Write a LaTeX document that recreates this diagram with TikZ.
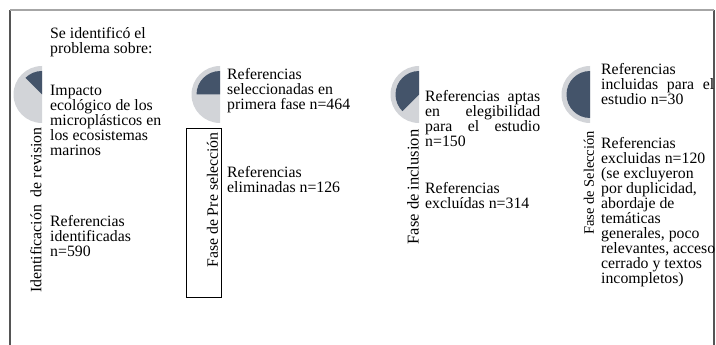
\documentclass[tikz,border=0pt]{standalone}
\usepackage{fontspec}
\setmainfont{Liberation Serif}
\definecolor{ballgray}{HTML}{D2D4D8}
\definecolor{balldark}{HTML}{44546A}
\definecolor{topline}{HTML}{A6A6A6}
\definecolor{sideline}{HTML}{555555}
\begin{document}
\begin{tikzpicture}[x=1pt,y=1pt,
  txt/.style={anchor=north west,inner sep=0pt,align=left,font=\fontsize{15.8}{15}\selectfont},
  phase/.style={rotate=90,inner sep=0pt,font=\fontsize{15.8}{15}\selectfont},
  ballbg/.style={fill=ballgray},
  ballfg/.style={fill=balldark}]
\useasboundingbox (0,0) rectangle (716,-345);
% frame
\draw[sideline,line width=1.1pt] (10,-345) -- (10,-10);
\draw[sideline,line width=1.1pt] (714,-10) -- (714,-345);
\draw[topline,line width=1.3pt] (10,-10) -- (714,-10);
% harvey balls
\foreach \cx/\ang [count=\i] in {42/135,220/180,419/225,590/270}{
  \coordinate (hb\i) at (\cx,-94.5);
  \fill[ballbg] (hb\i) -- ++(90:28.5) arc[start angle=90,end angle=270,radius=28.5] -- cycle;
  \fill[ballfg] (hb\i) -- ++(90:23.5) arc[start angle=90,end angle=\ang,radius=23.5] -- cycle;
}
% column 1
\node[txt] (c1a) at (50,-27) {Se identificó el\\problema sobre:};
\node[txt] (c1b) at (50,-85) {Impacto\\ecológico de los\\microplásticos en\\los ecosistemas\\marinos};
\node[txt] (c1c) at (50,-215) {Referencias\\identificadas\\n=590};
\node[phase] (p1) at (36,-210) {Identificación~~de revision};
% column 2
\node[txt] (c2a) at (227,-68) {Referencias\\seleccionadas en\\primera fase n=464};
\node[txt] (c2b) at (227,-166) {Referencias\\eliminadas n=126};
\node[draw,line width=0.9pt,minimum width=35pt,minimum height=169pt,inner sep=0pt] (box2) at (203.5,-212.5) {};
\node[phase] (p2) at (212.5,-200) {Fase de Pre selección};
% column 3
\node[txt] (c3a) at (425,-90) {\makebox[115pt][s]{Referencias aptas}\\\makebox[115pt][s]{en elegibilidad}\\\makebox[115pt][s]{para el estudio}\\n=150};
\node[txt] (c3b) at (425,-182) {Referencias\\excluídas n=314};
\node[phase,font=\fontsize{16.5}{16.5}\selectfont] (p3) at (413,-187) {Fase de inclusion};
% column 4
\node[txt] (c4a) at (601,-63) {Referencias\\\makebox[113pt][s]{incluidas para el}\\estudio n=30};
\node[txt] (c4b) at (601,-137) {Referencias\\excluidas n=120\\(se excluyeron\\por duplicidad,\\abordaje de\\temáticas\\generales, poco\\relevantes, acceso\\cerrado y textos\\incompletos)};
\node[phase,font=\fontsize{14.5}{14.5}\selectfont] (p4) at (589,-183) {Fase de Selección};
\end{tikzpicture}
\end{document}
